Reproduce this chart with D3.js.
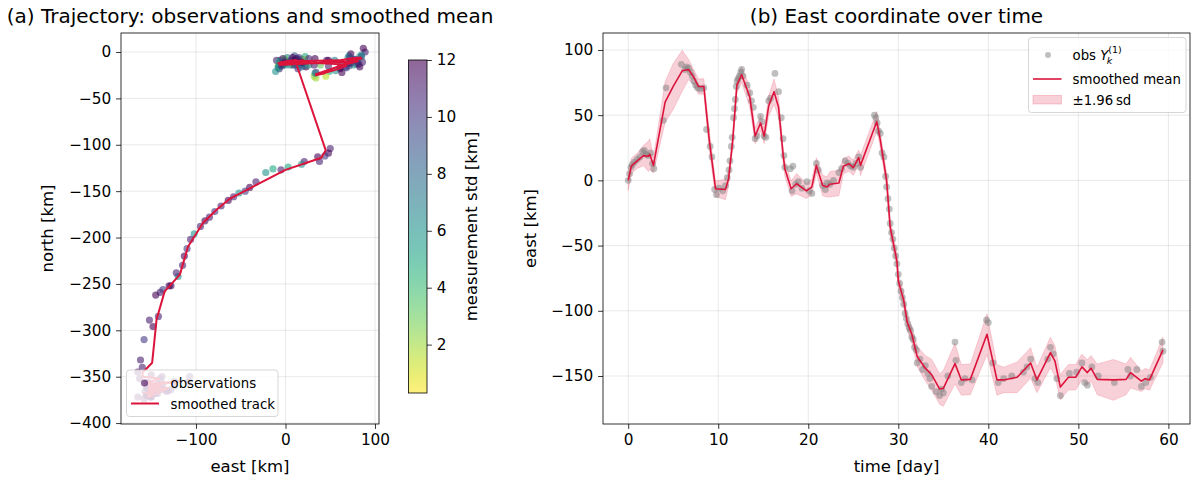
<!DOCTYPE html>
<meta charset="utf-8">
<style>
  body { margin: 0; background: #fff; }
  text { font-family: "DejaVu Sans", sans-serif; fill: #000; }
  .tick text { font-size: 15.3px; }
  .tick line { stroke: #000; stroke-width: 0.8; }
  .grid line { stroke: #b0b0b0; stroke-opacity: 0.35; stroke-width: 0.8; }
  .spine { fill: none; stroke: #000; stroke-width: 0.8; }
  .title { font-size: 20px; text-anchor: middle; }
  .label { font-size: 16.5px; text-anchor: middle; }
  .leg { font-size: 13.3px; }
</style>
<svg width="1195" height="477"></svg>
<script src="https://d3js.org/d3.v7.min.js"></script>
<script>
  // smoothed state at its time steps: time, east, north, east sd
  var tK = [0, 0.35, 1, 1.7, 2.25, 2.4, 2.8, 4.1, 5, 6, 6.7, 7.25, 7.8, 8.4, 9, 9.7, 10.8, 11.15, 11.6, 12.07,
    12.6, 13.5, 14.1, 14.7, 15.1, 15.6, 16.2, 16.7, 17.2, 17.4, 18.1, 18.7, 19.8, 20.4, 20.9, 21.6, 22.1, 22.4, 23.4, 23.9,
    24.5, 25, 25.6, 25.8, 27.6, 27.75, 28, 28.7, 29.1, 29.85, 30, 30.6, 31, 31.5, 32.1, 33, 33.7, 34.6, 35, 36.3,
    37, 38, 39.85, 40.96, 41.7, 43.2, 44.7, 45.4, 46.9, 47.4, 48, 48.9, 49.7, 50.4, 51, 51.4, 52.1, 53.9, 55.3, 55.8,
    57, 57.4, 57.9, 59.4]
  var meanE = [0, 11, 15, 19, 18.5, 20, 11.5, 60, 72, 84, 85, 79.5, 72, 72, 31, -6.4, -7, 1.3, 30, 73,
    81, 64, 34, 44, 34, 57, 68, 56, 20, 9, -6.4, -2.6, -8, -5, 11.5, -4, -5, -3, -2, 10.8,
    12.8, 9.7, 17.4, 11.5, 45, 40, 31, 0, -36, -62, -77, -92, -109, -118, -135, -144, -149, -160, -159.5, -140.5,
    -153, -152.6, -118, -153, -153, -151, -140, -153, -132, -138.5, -158.5, -151, -151, -143, -147.4, -144, -152.6, -153, -152.6, -147.4,
    -154, -152, -153, -130]
  var meanN = [-10, -9, -11, -12, -10, -9, -10, -9, -7, -6, -7, -8, -9, -10, -12, -14, -13, -12, -12, -11,
    -10, -14, -24, -23, -25, -19, -15, -13, -11, -10, -12, -11, -12, -11, -9, -11, -12, -12, -11, -10,
    -9, -10, -10, -11, -106, -114, -117, -127, -145, -158, -170, -184, -210, -240, -258, -288, -335, -346, -350, -352,
    -356, -358, -355, -360, -361, -362, -360, -364, -362, -363, -368, -366, -367, -365, -366, -365, -368, -370, -369, -367,
    -371, -370, -372, -362]
  var sdE = [4, 3, 3, 4, 6, 6, 3, 8, 9, 8, 4, 3, 3, 3, 4, 3, 4, 3, 3, 3,
    3, 4, 3, 3, 3, 4, 5, 4, 3, 3, 3, 4, 3, 3, 3, 4, 4, 5, 5, 3,
    3, 3, 3, 4, 4, 3, 3, 3, 3, 3, 3, 3, 3, 3, 4, 5, 6, 6, 7, 8,
    6, 6, 8, 6, 5, 6, 6, 5, 6, 6, 5, 5, 5, 5, 5, 5, 6, 8, 6, 6,
    4, 4, 4, 5]

  // observations: time, east, north, measurement std
  var obsT = [0, 0.15, 0.3, 0.45, 0.7, 1, 1.3, 1.6, 1.8, 2, 2.2, 2.5, 2.7, 2.85,
    3.9, 4.2, 5.9, 6.3, 6.5, 6.7, 6.9, 7.1, 7.3, 7.5, 7.7, 8, 8.4, 8.7, 9.1, 9.3,
    9.6, 9.8, 10.1, 10.5, 10.8, 11, 11.2,
    11.3, 11.45, 11.55, 11.7, 11.8, 11.9, 12, 12.1, 12.2, 12.35, 12.5, 12.6, 12.75,
    13.2, 13.5, 13.7, 13.9, 14.1, 14.3, 14.7, 14.85, 15.1, 15.3, 15.6, 15.8, 16.3, 16.7, 17, 17.2, 17.3, 17.4,
    18, 18.2, 18.3, 18.6, 18.9, 19.3, 19.85, 20.1, 20.4, 20.9, 21.1, 21.6, 21.9, 22.1, 22.4, 22.8, 23.4, 23.7, 24.1, 24.4, 24.7, 25, 25.3, 25.6, 25.8,
    27.35, 27.5, 27.65, 27.8, 28, 28.2, 28.4, 28.6, 28.7, 28.85,
    29, 29.1, 29.25, 29.4, 29.55, 29.7, 29.85, 30, 30.15, 30.3, 30.45, 30.6, 30.75, 30.9, 31.05, 31.2, 31.35, 31.5, 31.65, 31.8,
    32, 32.1, 32.4, 32.7, 33, 33.3, 33.5, 33.7, 34.2, 34.6, 34.8, 35,
    35.5, 36.3, 36.4, 37, 37.4, 38.2, 39.8, 40, 40.5, 41.1, 41.7, 42.6, 43.9, 44.3, 44.7, 45.2, 45.5, 46.6, 46.9, 47.2,
    47.6, 48, 49, 49.8, 50.4, 50.7, 51, 51.5, 52.2, 54, 55.5, 55.8, 56.5, 57, 57.5, 58, 59.3, 59.4]
  var obsE = [0, 5, 10, 12, 14, 16, 18, 22, 23, 20, 19, 21, 13, 9,
    46, 71, 89, 85, 87, 86, 83, 80, 76, 73, 71, 70, 71, 39, 26, 18,
    -7, -11, -6, -8, -4, 2, 8,
    15, 26, 33, 48, 55, 62, 72, 76, 78, 80, 83, 85, 80,
    73, 67, 61, 56, 32, 34, 49, 45, 34, 33, 61, 63, 82, 68, 48, 32, 19, 10,
    9, -8, 11, -3, -1, -6, -1, -8, -10, 13, 8, -4, -7, -2, -3, 0, 6, 9, 15, 13, 11, 10, 13, 18, 10,
    50, 48, 44, 38, 36, 21, 18, 3, -5, -14,
    -22, -33, -40, -45, -52, -58, -64, -72, -79, -85, -90, -95, -102, -106, -110, -113, -115, -120, -122, -128,
    -130, -140, -137, -145, -142, -148, -152, -158, -162, -165, -160, -163,
    -150, -124, -138, -155, -152, -153, -107, -109, -140, -155, -152, -150, -147, -143, -137, -152, -155, -137, -128, -133,
    -152, -165, -148, -147, -140, -155, -157, -143, -150, -155, -145, -150, -145, -158, -155, -151, -124, -131]
  var obsN = [-9, -14, -4, -12, -18, -10, -13, -5, -16, -8, -12, -15, -7, -13,
    -9, -4, 0, -3, 4, -11, -5, -13, -8, -2, -15, -6, -12, -14, -7, -16,
    -18, -21, -9, -15, -12, -6, -14,
    -11, -14, -7, -15, -9, -12, -6, -14, -8, -11, -16, -5, -10,
    -12, -16, -18, -20, -26, -22, -21, -26, -28, -23, -17, -22, -13, -17, -9, -14, -8, -12,
    -10, -16, -8, -13, -7, -14, -11, -17, -9, -12, -6, -15, -10, -13, -7, -14, -9, -12, -6, -14, -9, -12, -8, -11, -14,
    -104, -109, -112, -118, -113, -118, -121, -124, -127, -126,
    -130, -140, -146, -150, -152, -156, -160, -166, -172, -178, -182, -188, -196, -202, -212, -220, -230, -242, -238, -252,
    -252, -259, -256, -262, -285, -296, -289, -310, -332, -345, -340, -352,
    -348, -355, -350, -357, -362, -356, -350, -356, -352, -362, -358, -366, -360, -358, -364, -368, -362, -358, -364, -366,
    -370, -372, -364, -368, -362, -370, -366, -368, -372, -370, -366, -372, -368, -374, -370, -372, -360, -365]
  var obsStd = [10, 7, 9, 6, 11, 3, 11, 5, 12, 0.3, 8, 9, 12, 2,
    11, 6, 11, 7, 12, 11, 6, 11, 5, 12, 9, 7, 12, 3, 11, 8,
    11, 6, 10, 2, 11, 7, 6,
    10, 5, 12, 11, 7, 11, 10, 6, 11, 6, 12, 8, 10,
    11, 10, 12, 6, 2, 11, 5, 1.5, 2, 6, 11, 12, 11, 10, 12, 11, 6, 11,
    12, 7, 10, 12, 3, 9, 12, 6, 11, 6, 12, 11, 5, 12, 11, 6, 11, 2, 10, 7, 12, 6, 11, 12, 10,
    11, 12, 10, 11, 12, 11, 6, 5, 11, 5,
    6, 11, 12, 10, 6, 11, 12, 11, 10, 11, 12, 11, 6, 11, 10, 12, 11, 6, 11, 12,
    12, 11, 10, 12, 11, 12, 11, 10, 11, 12, 11, 12,
    12, 11, 12, 11, 10, 12, 11, 12, 11, 12, 11, 12, 11, 12, 11, 12, 11, 12, 11, 12,
    11, 12, 11, 12, 11, 12, 11, 12, 11, 12, 11, 12, 11, 12, 11, 12, 11, 12]

  var xTicksA = [-100, 0, 100]
  var yTicksA = [0, -50, -100, -150, -200, -250, -300, -350, -400]
  var cbTicks = [2, 4, 6, 8, 10, 12]
  var xTicksB = [0, 10, 20, 30, 40, 50, 60]
  var yTicksB = [100, 50, 0, -50, -100, -150]

  var red = "#dc143c"
  var svg = d3.select("svg")
  var fmt = d3.format("d")

  var xA = d3.scaleLinear().domain([-183.8, 104.5]).range([121, 379])
  var yA = d3.scaleLinear().domain([-401, 20.5]).range([424, 33])
  var xB = d3.scaleLinear().domain([-2.8, 62.4]).range([603, 1190])
  var yB = d3.scaleLinear().domain([-186.8, 113]).range([424, 33])

  var stdExt = d3.extent(obsStd)
  var color = function (s) { return d3.interpolateViridis(1 - (s - stdExt[0]) / (stdExt[1] - stdExt[0])) }

  function frame(x, y, xt, yt, id) {
    var g = svg.append("g")
    var grid = g.append("g").attr("class", "grid")
    grid.selectAll(".gx").data(xt).enter().append("line")
      .attr("x1", d => x(d)).attr("x2", d => x(d)).attr("y1", y.range()[0]).attr("y2", y.range()[1])
    grid.selectAll(".gy").data(yt).enter().append("line")
      .attr("y1", d => y(d)).attr("y2", d => y(d)).attr("x1", x.range()[0]).attr("x2", x.range()[1])
    svg.append("clipPath").attr("id", id).append("rect")
      .attr("x", x.range()[0]).attr("y", y.range()[1])
      .attr("width", x.range()[1] - x.range()[0]).attr("height", y.range()[0] - y.range()[1])
    return g.append("g").attr("clip-path", "url(#" + id + ")")
  }

  function axes(x, y, xt, yt) {
    svg.append("g").attr("transform", "translate(0," + y.range()[0] + ")")
      .call(d3.axisBottom(x).tickValues(xt).tickFormat(fmt).tickSize(4.9).tickPadding(4.9))
      .call(a => a.select(".domain").remove())
    svg.append("g").attr("transform", "translate(" + x.range()[0] + ",0)")
      .call(d3.axisLeft(y).tickValues(yt).tickFormat(fmt).tickSize(4.9).tickPadding(4.9))
      .call(a => a.select(".domain").remove())
    svg.append("rect").attr("class", "spine")
      .attr("x", x.range()[0]).attr("y", y.range()[1])
      .attr("width", x.range()[1] - x.range()[0]).attr("height", y.range()[0] - y.range()[1])
  }

  // (a) trajectory
  var pa = frame(xA, yA, xTicksA, yTicksA, "clipA")
  pa.selectAll("circle").data(obsT).enter().append("circle")
    .attr("cx", (d, i) => xA(obsE[i])).attr("cy", (d, i) => yA(obsN[i]))
    .attr("r", 3.6).attr("fill", (d, i) => color(obsStd[i])).attr("fill-opacity", 0.6)
  pa.append("path").datum(tK)
    .attr("d", d3.line().x((d, i) => xA(meanE[i])).y((d, i) => yA(meanN[i])))
    .attr("fill", "none").attr("stroke", red).attr("stroke-width", 2).attr("stroke-linejoin", "round")
  axes(xA, yA, xTicksA, yTicksA)

  var la = svg.append("g").attr("transform", "translate(126.5,370)")
  la.append("rect").attr("width", 151.5).attr("height", 46.5).attr("rx", 3)
    .attr("fill", "#fff").attr("fill-opacity", 0.8).attr("stroke", "#cccccc").attr("stroke-width", 0.8)
  la.append("circle").attr("cx", 18).attr("cy", 13).attr("r", 3.6).attr("fill", color(stdExt[1])).attr("fill-opacity", 0.6)
  la.append("text").attr("class", "leg").attr("x", 44).attr("y", 18).text("observations")
  la.append("line").attr("x1", 4.5).attr("x2", 32.5).attr("y1", 33.5).attr("y2", 33.5)
    .attr("stroke", red).attr("stroke-width", 2)
  la.append("text").attr("class", "leg").attr("x", 44).attr("y", 38.5).text("smoothed track")

  svg.append("text").attr("class", "title").attr("x", 250).attr("y", 23)
    .text("(a) Trajectory: observations and smoothed mean")
  svg.append("text").attr("class", "label").attr("x", 250).attr("y", 472).text("east [km]")
  svg.append("text").attr("class", "label").attr("transform", "translate(53,228.5) rotate(-90)").text("north [km]")

  // colour bar
  var cb = d3.scaleLinear().domain(stdExt).range([393, 60])
  var grad = svg.append("defs").append("linearGradient").attr("id", "cbg")
    .attr("x1", 0).attr("x2", 0).attr("y1", 0).attr("y2", 1)
  d3.range(0, 1.0001, 0.05).forEach(o => grad.append("stop").attr("offset", o).attr("stop-color", d3.interpolateViridis(o)))
  svg.append("rect").attr("x", 408.5).attr("y", 60).attr("width", 18.5).attr("height", 333)
    .attr("fill", "url(#cbg)").attr("fill-opacity", 0.6)
  svg.append("g").attr("transform", "translate(427,0)")
    .call(d3.axisRight(cb).tickValues(cbTicks).tickFormat(fmt).tickSize(4.9).tickPadding(4.9))
    .call(a => a.select(".domain").remove())
  svg.append("rect").attr("class", "spine").attr("x", 408.5).attr("y", 60).attr("width", 18.5).attr("height", 333)
  svg.append("text").attr("class", "label").attr("transform", "translate(477,226.5) rotate(-90)")
    .text("measurement std [km]")

  // (b) east over time
  var pb = frame(xB, yB, xTicksB, yTicksB, "clipB")
  pb.append("path").datum(tK)
    .attr("d", d3.area().x(d => xB(d))
      .y0((d, i) => yB(meanE[i] - 1.96 * sdE[i])).y1((d, i) => yB(meanE[i] + 1.96 * sdE[i])))
    .attr("fill", red).attr("fill-opacity", 0.2).attr("stroke", red).attr("stroke-opacity", 0.2).attr("stroke-width", 0.8)
  pb.selectAll("circle").data(obsT).enter().append("circle")
    .attr("cx", d => xB(d)).attr("cy", (d, i) => yB(obsE[i]))
    .attr("r", 3.4).attr("fill", "#808080").attr("fill-opacity", 0.5)
  pb.append("path").datum(tK)
    .attr("d", d3.line().x(d => xB(d)).y((d, i) => yB(meanE[i])))
    .attr("fill", "none").attr("stroke", red).attr("stroke-width", 1.6).attr("stroke-linejoin", "round")
  axes(xB, yB, xTicksB, yTicksB)

  var lb = svg.append("g").attr("transform", "translate(1028.5,37.5)")
  lb.append("rect").attr("width", 157.5).attr("height", 75).attr("rx", 3)
    .attr("fill", "#fff").attr("fill-opacity", 0.8).attr("stroke", "#cccccc").attr("stroke-width", 0.8)
  lb.append("circle").attr("cx", 19.5).attr("cy", 17.5).attr("r", 3).attr("fill", "#808080").attr("fill-opacity", 0.5)
  var ot = lb.append("text").attr("class", "leg").attr("x", 44).attr("y", 22)
  ot.append("tspan").text("obs ")
  ot.append("tspan").attr("font-style", "italic").text("Y")
  ot.append("tspan").attr("font-size", "9.5px").attr("dy", -6.5).text("(1)")
  ot.append("tspan").attr("font-size", "9.5px").attr("font-style", "italic").attr("dx", -15).attr("dy", 10.5).text("k")
  lb.append("line").attr("x1", 4.5).attr("x2", 33).attr("y1", 41.5).attr("y2", 41.5)
    .attr("stroke", red).attr("stroke-width", 1.6)
  lb.append("text").attr("class", "leg").attr("x", 44).attr("y", 46.5).text("smoothed mean")
  lb.append("rect").attr("x", 4.5).attr("y", 58).attr("width", 28.5).attr("height", 8.5)
    .attr("fill", red).attr("fill-opacity", 0.2).attr("stroke", red).attr("stroke-opacity", 0.2)
  lb.append("text").attr("class", "leg").attr("x", 44).attr("y", 67.5).text("±1.96\u2009sd")

  svg.append("text").attr("class", "title").attr("x", 896.5).attr("y", 23).text("(b) East coordinate over time")
  svg.append("text").attr("class", "label").attr("x", 896.5).attr("y", 472).text("time [day]")
  svg.append("text").attr("class", "label").attr("transform", "translate(536,228.5) rotate(-90)").text("east [km]")
</script>
